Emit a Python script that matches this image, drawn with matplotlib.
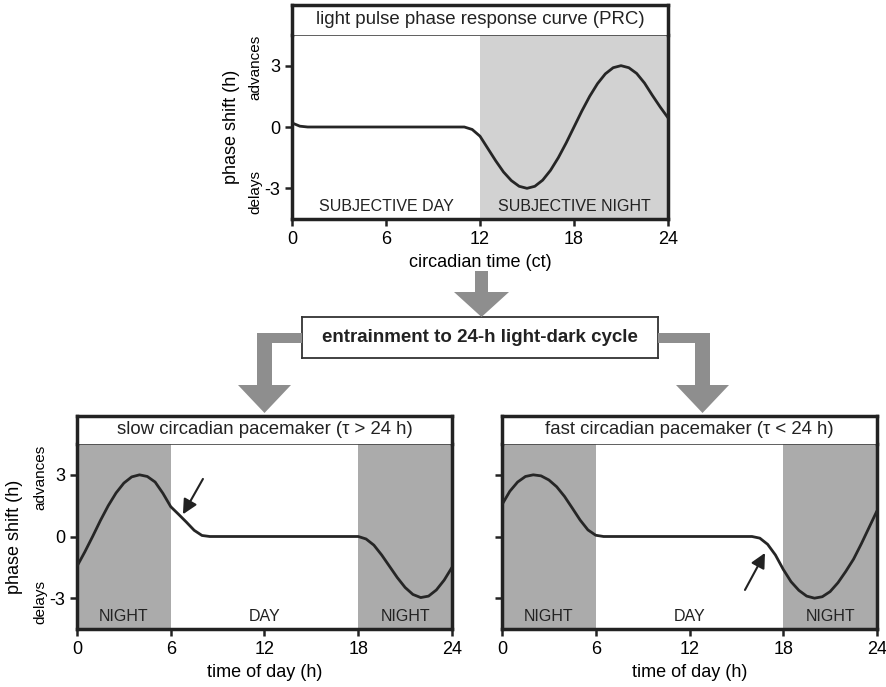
import matplotlib
matplotlib.use("Agg")
import matplotlib.pyplot as plt
from matplotlib.patches import Polygon

plt.rcParams['font.family'] = ['Liberation Sans', 'DejaVu Sans']

# light pulse PRC (circadian time vs phase shift)
prc_ct = [0, 0.25, 0.5, 1, 2, 11, 11.5, 12, 12.5, 13, 13.5, 14, 14.5, 15, 15.5, 16,
          16.5, 17, 17.5, 18, 18.5, 19, 19.5, 20, 20.5, 21, 21.5, 22, 22.5, 23, 23.5, 24]
prc_shift = [0.2, 0.12, 0.04, 0, 0, 0, -0.12, -0.45, -1.05, -1.65, -2.2, -2.62, -2.9, -3.0, -2.9, -2.6,
             -2.12, -1.5, -0.78, 0, 0.78, 1.5, 2.12, 2.6, 2.9, 3.0, 2.9, 2.62, 2.15, 1.55, 0.98, 0.45]

# slow pacemaker (tau > 24 h), time of day
slow_t = [0, 0.5, 1, 1.5, 2, 2.5, 3, 3.5, 4, 4.5, 5, 5.5, 6, 6.5, 7, 7.5, 8, 8.5,
          18, 18.5, 19, 19.5, 20, 20.5, 21, 21.5, 22, 22.5, 23, 23.5, 24]
slow_shift = [-1.45, -0.75, 0.0, 0.78, 1.5, 2.12, 2.6, 2.9, 3.0, 2.92, 2.65, 2.1, 1.45, 1.08, 0.7, 0.3, 0.05, 0,
              0, -0.12, -0.42, -0.9, -1.45, -2.0, -2.48, -2.82, -2.97, -2.9, -2.6, -2.12, -1.5]

# fast pacemaker (tau < 24 h)
fast_t = [0, 0.5, 1, 1.5, 2, 2.5, 3, 3.5, 4, 4.5, 5, 5.5, 6, 6.5,
          16, 16.5, 17, 17.5, 18, 18.5, 19, 19.5, 20, 20.5, 21, 21.5, 22, 22.5, 23, 23.5, 24]
fast_shift = [1.55, 2.2, 2.65, 2.92, 3.0, 2.95, 2.75, 2.42, 1.95, 1.38, 0.8, 0.32, 0.06, 0,
              0, -0.08, -0.38, -0.9, -1.6, -2.2, -2.62, -2.9, -3.0, -2.93, -2.68, -2.25, -1.7, -1.1, -0.35, 0.45, 1.25]

xticks = [0, 6, 12, 18, 24]
yticks = [-3, 0, 3]

W, H = 887, 687
DARK = "#222222"
CURVE = "#262626"
GRAY_ARROW = "#8e8e8e"

fig = plt.figure(figsize=(W / 100, H / 100), dpi=100)


def fr(x0, y0, x1, y1):
    # pixel box (top-left origin) -> figure rect
    return [x0 / W, 1 - y1 / H, (x1 - x0) / W, (y1 - y0) / H]


def panel(box, band_top, title, shades, shade_color, t, v, xlabel, labels, ylab_x):
    ax = fig.add_axes(fr(*box))
    for a, b in shades:
        ax.axvspan(a, b, color=shade_color, lw=0, zorder=0)
    ax.plot(t, v, color=CURVE, lw=2.0, zorder=3, solid_capstyle='butt')
    ax.set_xlim(0, 24)
    ax.set_ylim(-4.5, 4.5)
    ax.set_xticks(xticks)
    ax.set_yticks(yticks)
    ax.tick_params(axis='both', direction='out', length=5, width=1.8, color=DARK,
                   labelsize=13)
    ax.tick_params(axis='x', pad=4)
    for s in ['left', 'bottom', 'right']:
        ax.spines[s].set_linewidth(2.5)
        ax.spines[s].set_color(DARK)
    ax.spines['top'].set_linewidth(1.2)
    ax.spines['top'].set_color("#444444")
    ax.set_xlabel(xlabel, fontsize=13, labelpad=4)
    for txt, xc in labels:
        ax.text(xc, -3.9, txt, ha='center', va='center', fontsize=11.5, color=DARK)
    if ylab_x is not None:
        ax.set_yticklabels(['-3', '0', '3'])
        ax.text(ylab_x, 0.5, 'phase shift (h)', rotation=90, ha='center', va='center',
                fontsize=13, transform=ax.transAxes)
        ax.text(-0.098, 2.9, 'advances', rotation=90, ha='center', va='center',
                fontsize=11, transform=ax.get_yaxis_transform())
        ax.text(-0.098, -3.2, 'delays', rotation=90, ha='center', va='center',
                fontsize=11, transform=ax.get_yaxis_transform())
    else:
        ax.set_yticklabels([])
    # title band
    bx = fig.add_axes(fr(box[0], band_top, box[2], box[1]))
    bx.set_xticks([])
    bx.set_yticks([])
    for s in ['left', 'top', 'right']:
        bx.spines[s].set_linewidth(2.5)
        bx.spines[s].set_color(DARK)
    bx.spines['bottom'].set_visible(False)
    bx.text(0.5, 0.5, title, ha='center', va='center', fontsize=13.4, color=DARK)
    return ax


ax_top = panel((292, 35, 668, 219), 5, 'light pulse phase response curve (PRC)',
               [(12, 24)], '#d2d2d2', prc_ct, prc_shift, 'circadian time (ct)',
               [('SUBJECTIVE DAY', 6), ('SUBJECTIVE NIGHT', 18)], -0.16)

ax_slow = panel((77, 444, 452, 629), 416, 'slow circadian pacemaker (\u03c4 > 24 h)',
                [(0, 6), (18, 24)], '#ababab', slow_t, slow_shift, 'time of day (h)',
                [('NIGHT', 3), ('DAY', 12), ('NIGHT', 21)], -0.168)

ax_fast = panel((502, 444, 877, 629), 416, 'fast circadian pacemaker (\u03c4 < 24 h)',
                [(0, 6), (18, 24)], '#ababab', fast_t, fast_shift, 'time of day (h)',
                [('NIGHT', 3), ('DAY', 12), ('NIGHT', 21)], None)

# black pointer arrows
ax_slow.annotate('', xy=(6.78, 1.08), xytext=(8.06, 2.8),
                 arrowprops=dict(arrowstyle='-|>', color=DARK, lw=1.5, mutation_scale=22, shrinkA=0, shrinkB=0))
ax_fast.annotate('', xy=(16.83, -0.8), xytext=(15.55, -2.6),
                 arrowprops=dict(arrowstyle='-|>', color=DARK, lw=1.5, mutation_scale=22, shrinkA=0, shrinkB=0))

# flow diagram: gray arrows and entrainment box
flow_shapes = [
    [(475, 271), (488, 271), (488, 292), (509, 292), (481.5, 317), (454, 292), (475, 292)],
    [(302, 333), (257, 333), (257, 385), (238, 385), (264.5, 413), (291, 385), (272, 385), (272, 343), (302, 343)],
    [(658, 333), (710, 333), (710, 385), (729, 385), (702.5, 413), (676, 385), (695, 385), (695, 343), (658, 343)],
]
for pts in flow_shapes:
    fig.patches.append(Polygon([(x / W, 1 - y / H) for x, y in pts], closed=True,
                               transform=fig.transFigure, facecolor=GRAY_ARROW, edgecolor='none'))

ex = fig.add_axes(fr(302, 317, 658, 358))
ex.set_xticks([])
ex.set_yticks([])
for s in ex.spines.values():
    s.set_linewidth(1.3)
    s.set_color("#333333")
ex.text(0.5, 0.5, 'entrainment to 24-h light-dark cycle', ha='center', va='center',
        fontsize=13.5, fontweight='bold', color=DARK)

plt.savefig('out.png', dpi=100)
